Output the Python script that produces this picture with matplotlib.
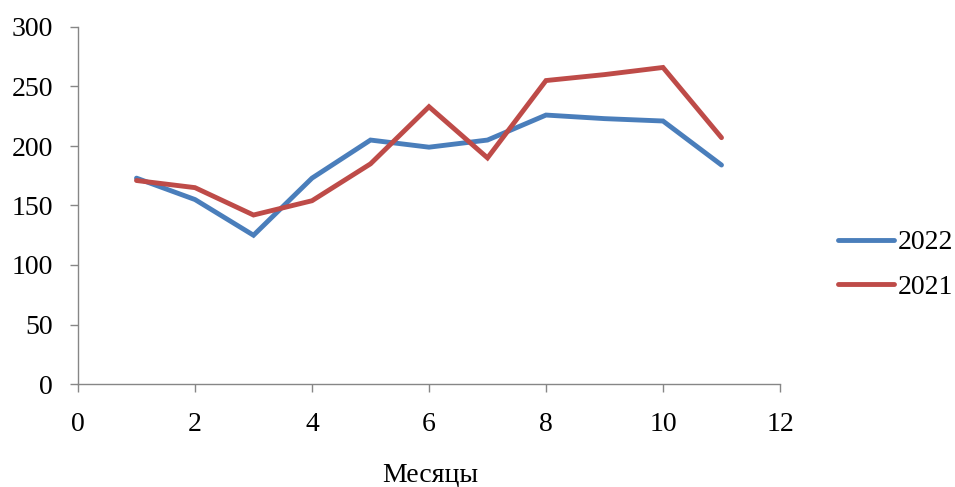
import matplotlib
matplotlib.use("Agg")
import matplotlib.pyplot as plt

months = [1, 2, 3, 4, 5, 6, 7, 8, 9, 10, 11]
values_2022 = [173, 155, 125, 173, 205, 199, 205, 226, 223, 221, 184]
values_2021 = [171, 165, 142, 154, 185, 233, 190, 255, 260, 266, 207]
series_labels = ["2022", "2021"]
x_ticks = [0, 2, 4, 6, 8, 10, 12]
y_ticks = [0, 50, 100, 150, 200, 250, 300]

plt.rcParams['font.family'] = ['Liberation Serif', 'DejaVu Serif']

W, H = 955, 487
fig = plt.figure(figsize=(W / 100, H / 100), dpi=100)
ax = fig.add_axes([78 / W, 1 - 384 / H, (780 - 78) / W, (384 - 27) / H])

blue = "#4A7EBB"
red = "#BE4B48"
l1, = ax.plot(months, values_2022, color=blue, lw=3.5, solid_capstyle="round", solid_joinstyle="miter")
l2, = ax.plot(months, values_2021, color=red, lw=3.5, solid_capstyle="round", solid_joinstyle="miter")

ax.set_xlim(0, 12)
ax.set_ylim(0, 300)
ax.set_xticks(x_ticks)
ax.set_yticks(y_ticks)
for s in ["top", "right"]:
    ax.spines[s].set_visible(False)
for s in ["left", "bottom"]:
    ax.spines[s].set_color("#868686")
    ax.spines[s].set_linewidth(1)
ax.tick_params(axis="both", direction="out", length=6, width=1, color="#868686",
               labelsize=20, labelcolor="black")
ax.tick_params(axis="x", pad=14)
ax.tick_params(axis="y", pad=12)

fig.text(430 / W, 1 - 475 / H, "Месяцы", ha="center", va="center", fontsize=20)

# legend
leg = fig.legend([l1, l2], series_labels, loc="center left",
                 bbox_to_anchor=(838 / W, 1 - 265 / H), frameon=False,
                 fontsize=20, handlelength=2.0, handletextpad=0.15,
                 labelspacing=0.7, borderaxespad=0, borderpad=0)

fig.savefig("out.png", dpi=100)
